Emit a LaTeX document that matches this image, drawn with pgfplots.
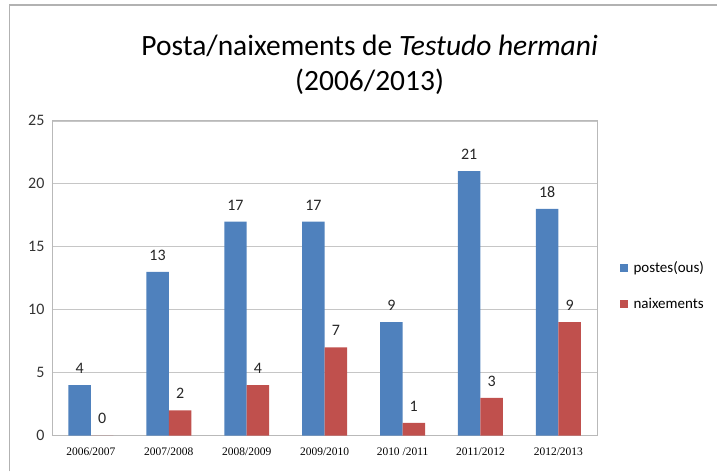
\documentclass[border=0pt]{standalone}
\usepackage{fontspec}
\setmainfont{Carlito}
\newfontfamily\serifx{Liberation Serif}
\usepackage{pgfplots}
\pgfplotsset{compat=1.18}
\definecolor{obar}{HTML}{4F81BD}
\definecolor{rbar}{HTML}{C0504D}
\begin{document}
\begin{tikzpicture}[x=1pt,y=1pt]
\path (0,0) rectangle (718,472);
\draw[gray!60, line width=1.6pt] (9.5,0) -- (9.5,467) -- (718,467);
\node[font=\fontsize{29.5}{33}\selectfont] at (370,426) {Posta/naixements de \textit{Testudo hermani}};
\node[font=\fontsize{29.5}{33}\selectfont] at (370,390) {(2006/2013)};
\begin{axis}[
  at={(52pt,36pt)}, anchor=south west,
  scale only axis, width=546pt, height=315pt,
  ybar=0pt, bar width=22.5pt,
  xmin=-0.5, xmax=6.5, ymin=0, ymax=25,
  xtick=data,
  xticklabels={2006/2007,2007/2008,2008/2009,2009/2010,2010 /2011,2011/2012,2012/2013},
  xticklabel style={font=\serifx\fontsize{11.5}{12}\selectfont, yshift=-9pt},
  ytick={0,5,10,15,20,25},
  yticklabel style={font=\fontsize{16}{18}\selectfont, text=black!80, xshift=-4pt},
  /pgf/number format/assume math mode=true,
  major tick length=0pt,
  ymajorgrids, grid style={gray!45, line width=0.7pt},
  axis line style={gray!55, line width=0.8pt},
  nodes near coords,
  every node near coord/.append style={font=\fontsize{16}{18}\selectfont, text=black!85, yshift=8pt},
  legend style={at={(1.035,0.475)}, anchor=west, draw=none, fill=none,
    font=\fontsize{15}{17}\selectfont, row sep=20pt,
    legend cell align=left, nodes={inner xsep=6pt}},
  legend image code/.code={\fill[#1] (0pt,-4pt) rectangle (8pt,4pt);},
]
\addplot[fill=obar, draw=none] coordinates {(0,4) (1,13) (2,17) (3,17) (4,9) (5,21) (6,18)};
\addplot[fill=rbar, draw=none] coordinates {(0,0) (1,2) (2,4) (3,7) (4,1) (5,3) (6,9)};
\legend{postes(ous), naixements}
\end{axis}
\end{tikzpicture}
\end{document}
